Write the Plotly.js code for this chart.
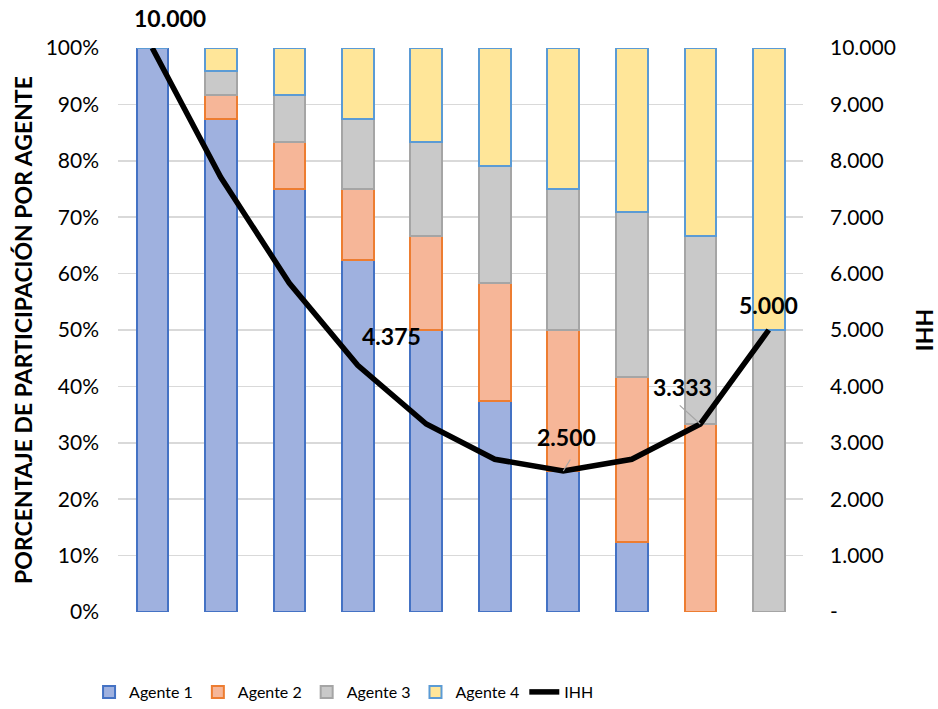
<!DOCTYPE html>
<html>
<head>
<meta charset="utf-8">
<script src="https://cdn.plot.ly/plotly-3.0.1.min.js"></script>
<style>html,body{margin:0;padding:0;background:#fff;}#chart{width:938px;height:709px;}</style>
</head>
<body>
<div id="chart"></div>
<script>
var categories = ["1","2","3","4","5","6","7","8","9","10"];
var agente1 = [100, 87.5, 75, 62.5, 50, 37.5, 25, 12.5, 0, 0];
var agente2 = [0, 4.17, 8.33, 12.5, 16.67, 20.83, 25, 29.17, 33.33, 0];
var agente3 = [0, 4.17, 8.33, 12.5, 16.67, 20.83, 25, 29.17, 33.33, 50];
var agente4 = [0, 4.17, 8.33, 12.5, 16.67, 20.83, 25, 29.17, 33.33, 50];
var ihh = [10000, 7708, 5833, 4375, 3333, 2708, 2500, 2708, 3333, 5000];
var labelIdx = [0, 3, 6, 8, 9];
var labelText = ["10.000", "4.375", "2.500", "3.333", "5.000"];
var leftTicks = [0,10,20,30,40,50,60,70,80,90,100];
var leftTickText = ["0%","10%","20%","30%","40%","50%","60%","70%","80%","90%","100%"];
var rightTicks = [0,1000,2000,3000,4000,5000,6000,7000,8000,9000,10000];
var rightTickText = ["-","1.000","2.000","3.000","4.000","5.000","6.000","7.000","8.000","9.000","10.000"];

var FONT = "Lato, 'Open Sans', sans-serif";

function barTrace(name, y, fill, line) {
  return {type: "bar", name: name, x: categories, y: y,
    marker: {color: fill, line: {color: line, width: 2}},
    hoverinfo: "skip"};
}
var traces = [
  barTrace("Agente 1", agente1, "#9fb1df", "#4472c4"),
  barTrace("Agente 2", agente2, "#f6b698", "#ed7d31"),
  barTrace("Agente 3", agente3, "#c9c9c9", "#a5a5a5"),
  barTrace("Agente 4", agente4, "#ffe699", "#5b9bd5"),
  {type: "scatter", mode: "lines", name: "IHH", x: categories, y: ihh, yaxis: "y2",
   line: {color: "#000000", width: 5.5}, hoverinfo: "skip"}
];

var offsets = [[18, 30], [34, 29], [3, 34], [-18, 37], [0, 25]];
var annotations = labelIdx.map(function(i, k) {
  return {x: categories[i], y: ihh[i], xref: "x", yref: "y2",
    text: "<b>" + labelText[k] + "</b>", showarrow: false,
    xshift: offsets[k][0], yshift: offsets[k][1],
    font: {family: FONT, size: 23, color: "#000"}};
});
// leader lines
annotations.push({x: categories[6], y: ihh[6], xref: "x", yref: "y2", ax: 8, ay: -13,
  showarrow: true, arrowhead: 0, arrowcolor: "#a6a6a6", arrowwidth: 1.2, text: ""});
annotations.push({x: categories[8], y: ihh[8], xref: "x", yref: "y2", ax: -22, ay: -20,
  showarrow: true, arrowhead: 0, arrowcolor: "#a6a6a6", arrowwidth: 1.2, text: ""});

var layout = {
  width: 938, height: 709,
  margin: {l: 118, r: 135, t: 48, b: 97},
  barmode: "stack", bargap: 0.54,
  paper_bgcolor: "#fff", plot_bgcolor: "#fff",
  font: {family: FONT, size: 21, color: "#000"},
  showlegend: true,
  legend: {orientation: "h", x: 0.33, xanchor: "center", xref: "paper",
    yref: "container", y: 0.0, yanchor: "bottom",
    font: {family: FONT, size: 16, color: "#000"}, traceorder: "normal", itemwidth: 30},
  xaxis: {showticklabels: false, showgrid: false, zeroline: false, showline: false, ticks: ""},
  yaxis: {range: [0, 100], tickvals: leftTicks, ticktext: leftTickText,
    showgrid: true, gridcolor: "#d9d9d9", gridwidth: 1.5, zeroline: false, showline: false,
    ticks: "", ticklabelstandoff: 18, tickfont: {family: FONT, size: 21, color: "#000"},
    title: {text: "<b>PORCENTAJE DE PARTICIPACIÓN POR AGENTE</b>", font: {family: FONT, size: 23, color: "#000"}, standoff: 6}},
  yaxis2: {range: [0, 10000], overlaying: "y", side: "right", tickvals: rightTicks, ticktext: rightTickText,
    showgrid: false, zeroline: false, showline: false, ticks: "", ticklabelstandoff: 26,
    tickfont: {family: FONT, size: 21, color: "#000"},
    title: {text: "<b>IHH</b>", font: {family: FONT, size: 23, color: "#000"}, standoff: 22}},
  annotations: annotations
};

Plotly.newPlot("chart", traces, layout, {displayModeBar: false, staticPlot: true});
</script>
</body>
</html>
